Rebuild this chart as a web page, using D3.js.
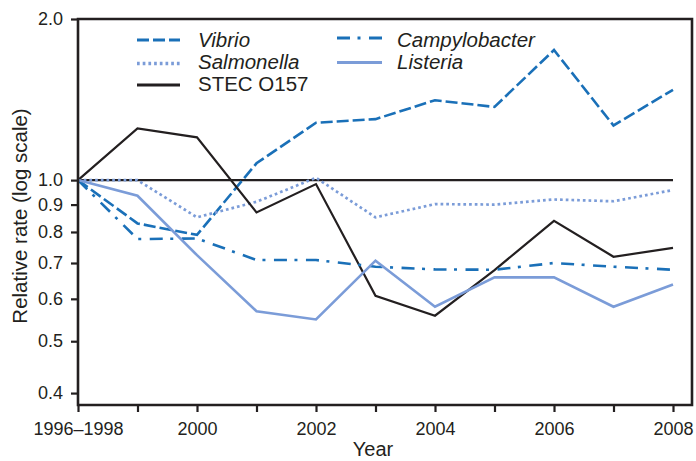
<!DOCTYPE html>
<html>
<head>
<meta charset="utf-8">
<script src="https://cdn.jsdelivr.net/npm/d3@7"></script>
<style>
  html, body { margin: 0; padding: 0; background: #fff; }
  svg { display: block; font-family: "Liberation Sans", Arial, Helvetica, sans-serif; }
</style>
</head>
<body>
<svg id="chart" width="696" height="461"></svg>
<script>
// ---- data ----
const years = ["1996–1998","1999","2000","2001","2002","2003","2004","2005","2006","2007","2008"];
const xTickLabels = ["1996–1998","","2000","","2002","","2004","","2006","","2008"];
const yTicks = [0.4, 0.5, 0.6, 0.7, 0.8, 0.9, 1.0, 2.0];

const vibrio        = [1.0, 0.83, 0.79, 1.075, 1.28, 1.30, 1.41, 1.37, 1.75, 1.265, 1.475];
const salmonella    = [1.0, 1.0, 0.852, 0.911, 1.01, 0.852, 0.902, 0.90, 0.92, 0.913, 0.958];
const stec          = [1.0, 1.249, 1.202, 0.87, 0.983, 0.608, 0.558, 0.679, 0.839, 0.719, 0.747];
const campylobacter = [1.0, 0.776, 0.778, 0.709, 0.709, 0.689, 0.681, 0.68, 0.70, 0.689, 0.68];
const listeria      = [1.0, 0.935, 0.724, 0.569, 0.549, 0.707, 0.58, 0.658, 0.658, 0.58, 0.638];

const seriesNames = ["Vibrio", "Salmonella", "STEC O157", "Campylobacter", "Listeria"];

// ---- styles ----
const dark = "#231f20";
const blue = "#1a70b8";
const light = "#7b9cd8";
const styles = {
  "Vibrio":        {values: vibrio,        color: blue,  width: 2.6, dash: "12,4",            italic: true},
  "Salmonella":    {values: salmonella,    color: light, width: 2.7, dash: "2.7,3",           italic: true},
  "STEC O157":     {values: stec,          color: dark,  width: 2.2, dash: null,              italic: false},
  "Campylobacter": {values: campylobacter, color: blue,  width: 2.6, dash: "13,7.5,3,8.5",    italic: true},
  "Listeria":      {values: listeria,      color: light, width: 2.6, dash: null,              italic: true}
};

const svg = d3.select("#chart");
const x = d3.scaleLinear().domain([0, years.length - 1]).range([78, 673]);
const y = d3.scaleLog().domain([0.38, 2.0]).range([405, 19]);
const frameRight = 692;

// reference line at 1.0
svg.append("line")
  .attr("x1", x(0)).attr("x2", x(10))
  .attr("y1", y(1)).attr("y2", y(1))
  .attr("stroke", dark).attr("stroke-width", 2.2);

// series lines
const line = d3.line().x((d, i) => x(i)).y(d => y(d));
seriesNames.forEach(name => {
  const s = styles[name];
  svg.append("path")
    .datum(s.values)
    .attr("d", line)
    .attr("fill", "none")
    .attr("stroke", s.color)
    .attr("stroke-width", s.width)
    .attr("stroke-dasharray", s.dash)
    .attr("stroke-linejoin", "miter");
});

// frame
svg.append("path")
  .attr("d", `M${x(0)},${y.range()[1]}H${frameRight}V${y.range()[0]}H${x(0)}Z`)
  .attr("fill", "none").attr("stroke", dark).attr("stroke-width", 2.6);

// x axis
const xAxis = d3.axisBottom(x)
  .tickValues(d3.range(years.length))
  .tickFormat((d, i) => xTickLabels[i])
  .tickSizeInner(7).tickSizeOuter(0).tickPadding(10);
const gx = svg.append("g").attr("transform", `translate(0,${y.range()[0]})`).call(xAxis);
gx.select(".domain").remove();
gx.selectAll(".tick line").attr("stroke", dark).attr("stroke-width", 2.2);
gx.selectAll(".tick text").attr("fill", dark).attr("font-size", 18).attr("font-family", "Liberation Sans, Arial, sans-serif");

// y axis
const yAxis = d3.axisLeft(y)
  .tickValues(yTicks)
  .tickFormat(d3.format(".1f"))
  .tickSizeInner(7).tickSizeOuter(0).tickPadding(8);
const gy = svg.append("g").attr("transform", `translate(${x(0)},0)`).call(yAxis);
gy.select(".domain").remove();
gy.selectAll(".tick line").attr("stroke", dark).attr("stroke-width", 2.2);
gy.selectAll(".tick text").attr("fill", dark).attr("font-size", 18).attr("font-family", "Liberation Sans, Arial, sans-serif");

// axis titles
svg.append("text")
  .attr("x", 373).attr("y", 456)
  .attr("text-anchor", "middle")
  .attr("font-size", 20).attr("fill", dark)
  .text("Year");
svg.append("text")
  .attr("transform", "translate(27,216) rotate(-90)")
  .attr("text-anchor", "middle")
  .attr("font-size", 20.5).attr("fill", dark)
  .text("Relative rate (log scale)");

// legend
const legendPos = {
  "Vibrio":        {sx: 137, ex: 180, ty: 47, sy: 40,  tx: 198},
  "Salmonella":    {sx: 137, ex: 180, ty: 69, sy: 63.5, tx: 198},
  "STEC O157":     {sx: 137, ex: 180, ty: 91, sy: 85,  tx: 198},
  "Campylobacter": {sx: 337, ex: 382, ty: 47, sy: 38,  tx: 397},
  "Listeria":      {sx: 337, ex: 382, ty: 69, sy: 62.5, tx: 397}
};
seriesNames.forEach(name => {
  const s = styles[name], p = legendPos[name];
  svg.append("line")
    .attr("x1", p.sx).attr("x2", p.ex).attr("y1", p.sy).attr("y2", p.sy)
    .attr("stroke", s.color).attr("stroke-width", s.width + 0.6)
    .attr("stroke-dasharray", s.dash);
  svg.append("text")
    .attr("x", p.tx).attr("y", p.ty)
    .attr("font-size", 20.5).attr("fill", dark)
    .attr("font-style", s.italic ? "italic" : "normal")
    .text(name);
});
</script>
</body>
</html>
